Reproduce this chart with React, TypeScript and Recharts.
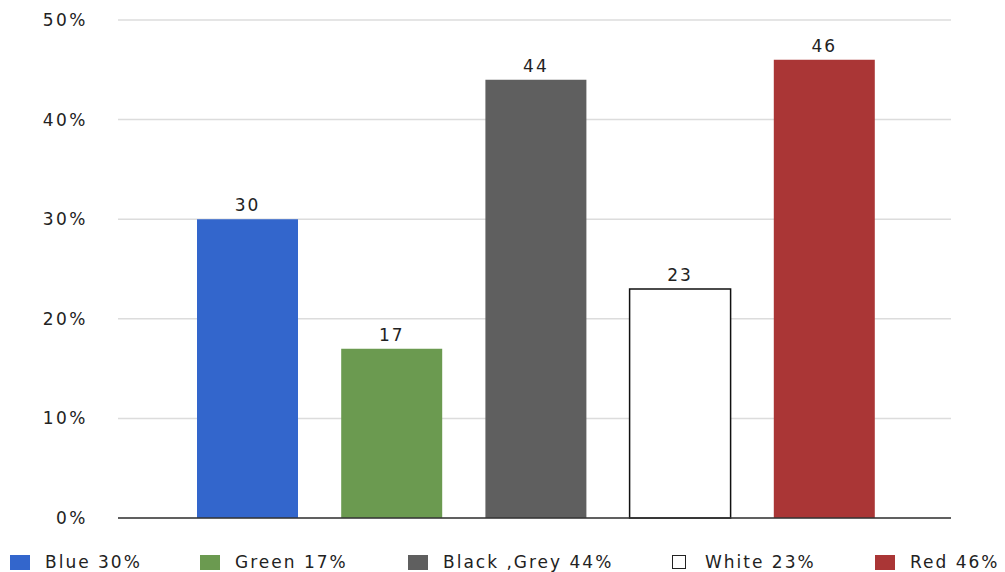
import React from 'react';
import { BarChart, Bar, XAxis, YAxis, CartesianGrid, Cell, LabelList, ReferenceLine } from 'recharts';

const categories = ['Blue', 'Green', 'Black ,Grey', 'White', 'Red'];
const values = [30, 17, 44, 23, 46];
const colors = ['#3366cc', '#6b9a50', '#5f5f5f', '#ffffff', '#aa3636'];
const yTicks = [0, 10, 20, 30, 40, 50];

const FONT = '"DejaVu Sans", sans-serif';

const data = categories.map((name, i) => ({ name, value: values[i] }));

// legend item offsets along the bottom row
const legendX = [10, 200, 408, 672, 875];

const App: React.FC = () => {
  return (
    <div style={{ position: 'absolute', left: 0, top: 0, width: 1005, height: 572, background: '#fff' }}>
      <BarChart
        width={1005}
        height={572}
        data={data}
        margin={{ top: 20, right: 54, bottom: 54, left: 0 }}
      >
        <CartesianGrid vertical={false} stroke="#dcdcdc" strokeWidth={1.5} />
        <XAxis
          dataKey="name"
          height={0}
          tick={false}
          tickLine={false}
          axisLine={false}
          padding={{ left: 57, right: 55 }}
        />
        <YAxis
          width={118}
          domain={[0, 50]}
          ticks={yTicks}
          tickFormatter={(v: number) => `${v}%`}
          axisLine={false}
          tickLine={false}
          tickMargin={24}
          tick={{ fill: '#222', fontSize: 17, fontFamily: FONT, letterSpacing: 2.5 }}
        />
        <Bar dataKey="value" barSize={101} isAnimationActive={false}>
          {data.map((d, i) => (
            <Cell
              key={d.name}
              fill={colors[i]}
              stroke={d.name === 'White' ? '#111' : 'none'}
              strokeWidth={d.name === 'White' ? 1.5 : 0}
            />
          ))}
          <LabelList
            dataKey="value"
            position="top"
            offset={8}
            style={{ fill: '#222', fontSize: 17, fontFamily: FONT, letterSpacing: 2 }}
          />
        </Bar>
        <ReferenceLine y={0} stroke="#333" strokeWidth={1.5} />
      </BarChart>
      {categories.map((name, i) => (
        <div
          key={name}
          style={{
            position: 'absolute',
            left: legendX[i],
            top: 552,
            display: 'flex',
            alignItems: 'center',
            fontFamily: FONT,
            fontSize: 17,
            letterSpacing: 2,
            color: '#222',
            whiteSpace: 'nowrap',
          }}
        >
          <span
            style={{
              display: 'inline-block',
              width: name === 'White' ? 12 : 20,
              height: name === 'White' ? 12 : 15,
              background: colors[i],
              border: name === 'White' ? '1.5px solid #222' : 'none',
              marginRight: name === 'White' ? 19 : 15,
            }}
          />
          {`${name} ${values[i]}%`}
        </div>
      ))}
    </div>
  );
};

export default App;
